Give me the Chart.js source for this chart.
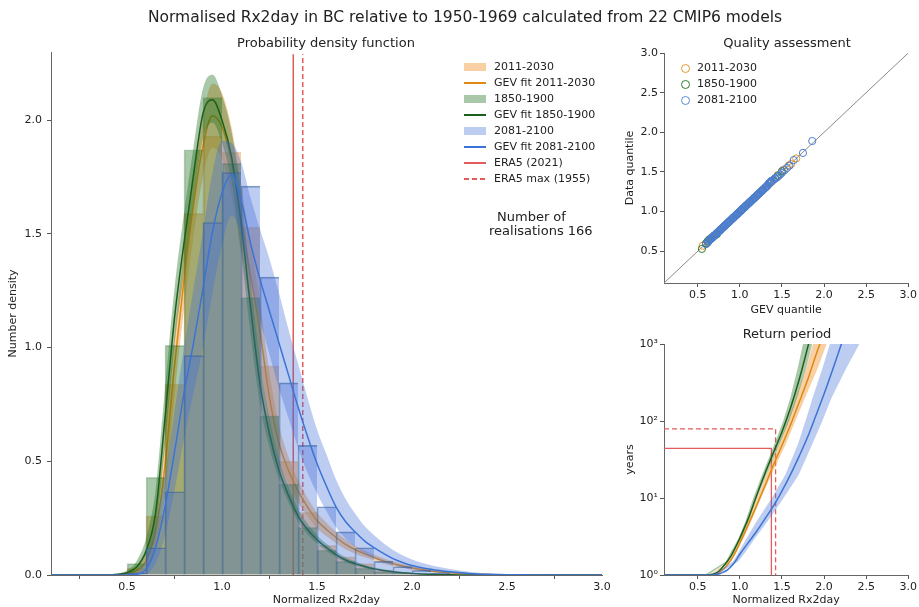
<!DOCTYPE html>
<html>
<head>
<meta charset="utf-8">
<script src="https://cdn.jsdelivr.net/npm/chart.js@4.4.1/dist/chart.umd.min.js"></script>
<style>
  body { margin: 0; background: #fff; font-family: 'DejaVu Sans', sans-serif; color: #222; }
  #page { position: relative; width: 919px; height: 607px; overflow: hidden; }
  canvas { position: absolute; }
  .txt { position: absolute; white-space: nowrap; line-height: 1; }
  .ctr { transform: translate(-50%, -50%); }
  .leg { position: absolute; font-size: 11px; line-height: 16px; }
  .leg > div { position: relative; height: 16px; white-space: nowrap; }
  .sw { position: absolute; left: 0; top: 4px; width: 22px; height: 8px; }
  .ln { position: absolute; left: 0; top: 7px; width: 22px; height: 1.6px; }
  .dot { position: absolute; left: 0; top: 3.5px; width: 7px; height: 7px; border-radius: 50%; border: 1.2px solid; }
</style>
</head>
<body>
<div id="page">
  <canvas id="pdf" width="620" height="607" style="left:0;top:0"></canvas>
  <canvas id="qq" width="299" height="317" style="left:620px;top:0"></canvas>
  <canvas id="rp" width="299" height="277" style="left:620px;top:330px"></canvas>

  <div class="txt ctr" style="left:465px;top:18px;font-size:15.5px">Normalised Rx2day in BC relative to 1950-1969 calculated from 22 CMIP6 models</div>
  <div class="txt ctr" style="left:326px;top:42px;font-size:13px">Probability density function</div>
  <div class="txt ctr" style="left:787px;top:42px;font-size:13px">Quality assessment</div>
  <div class="txt ctr" style="left:787px;top:333px;font-size:13px">Return period</div>

  <div class="leg" style="left:464px;top:59px">
    <div style="padding-left:30px"><span class="sw" style="background:rgba(240,150,50,0.45)"></span>2011-2030</div>
    <div style="padding-left:30px"><span class="ln" style="background:#de8a12"></span>GEV fit 2011-2030</div>
    <div style="padding-left:30px"><span class="sw" style="background:rgba(30,110,30,0.38)"></span>1850-1900</div>
    <div style="padding-left:30px"><span class="ln" style="background:#1d5e1d"></span>GEV fit 1850-1900</div>
    <div style="padding-left:30px"><span class="sw" style="background:rgba(65,110,215,0.35)"></span>2081-2100</div>
    <div style="padding-left:30px"><span class="ln" style="background:#3b74d4"></span>GEV fit 2081-2100</div>
    <div style="padding-left:30px"><span class="ln" style="background:#e35b5b"></span>ERA5 (2021)</div>
    <div style="padding-left:30px"><span class="ln" style="background:repeating-linear-gradient(90deg,#e35b5b 0 5px,transparent 5px 8px)"></span>ERA5 max (1955)</div>
  </div>
  <div class="txt" style="left:497px;top:210px;font-size:13px">Number of</div>
  <div class="txt" style="left:489px;top:224px;font-size:13px">realisations 166</div>

  <div class="leg" style="left:681px;top:60px">
    <div style="padding-left:16px"><span class="dot" style="border-color:#e8952c"></span>2011-2030</div>
    <div style="padding-left:16px"><span class="dot" style="border-color:#2f7a2f"></span>1850-1900</div>
    <div style="padding-left:16px"><span class="dot" style="border-color:#5b8ad8"></span>2081-2100</div>
  </div>
</div>
<script>
// histogram bins (centres, width 0.1) and densities
const binMid = [0.55, 0.65, 0.75, 0.85, 0.95, 1.05, 1.15, 1.25, 1.35, 1.45, 1.55, 1.65, 1.75, 1.85, 1.95, 2.05, 2.15];
const hist2011 = [0.03, 0.26, 0.84, 1.59, 1.93, 1.86, 1.53, 0.92, 0.50, 0.276, 0.13, 0.08, 0.05, 0.02, 0.01, 0, 0];
const hist1850 = [0.05, 0.43, 1.01, 1.87, 2.10, 1.81, 1.22, 0.70, 0.40, 0.21, 0.11, 0.06, 0.03, 0.015, 0.01, 0, 0];
const hist2081 = [0.01, 0.12, 0.366, 0.965, 1.55, 1.77, 1.71, 1.31, 0.845, 0.57, 0.30, 0.19, 0.12, 0.06, 0.037, 0.02, 0.01];

// GEV fit density curves with their uncertainty band
const pdfX = [0.1, 0.4, 0.45, 0.5, 0.55, 0.6, 0.65, 0.7, 0.75, 0.8, 0.85, 0.9, 0.95, 1.0, 1.05, 1.1, 1.15, 1.2, 1.25, 1.3,
  1.35, 1.4, 1.45, 1.5, 1.55, 1.6, 1.65, 1.7, 1.75, 1.8, 1.85, 1.9, 1.95, 2.0, 2.1, 2.2, 2.3, 2.4, 2.5, 3.0];
const gev2011 = [0, 0, 0.001, 0.005, 0.018, 0.06, 0.19, 0.48, 0.92, 1.30, 1.63, 1.89, 2.02, 1.97, 1.82, 1.57, 1.32, 1.07, 0.78, 0.58,
  0.46, 0.37, 0.30, 0.24, 0.20, 0.165, 0.135, 0.112, 0.093, 0.077, 0.062, 0.05, 0.04, 0.031, 0.018, 0.01, 0.005, 0.002, 0.001, 0];
const gev2011Hi = [0, 0, 0.003, 0.012, 0.035, 0.10, 0.28, 0.62, 1.06, 1.43, 1.76, 2.02, 2.16, 2.12, 1.97, 1.72, 1.46, 1.20, 0.89, 0.66,
  0.52, 0.42, 0.34, 0.275, 0.23, 0.19, 0.157, 0.13, 0.108, 0.09, 0.074, 0.06, 0.048, 0.038, 0.023, 0.013, 0.007, 0.003, 0.0015, 0];
const gev2011Lo = [0, 0, 0, 0.002, 0.008, 0.03, 0.11, 0.35, 0.79, 1.17, 1.49, 1.75, 1.88, 1.83, 1.67, 1.42, 1.18, 0.94, 0.67, 0.50,
  0.40, 0.32, 0.26, 0.205, 0.17, 0.14, 0.113, 0.094, 0.078, 0.064, 0.05, 0.04, 0.032, 0.024, 0.013, 0.007, 0.003, 0.001, 0, 0];
const gev1850 = [0, 0, 0.003, 0.01, 0.035, 0.105, 0.27, 0.69, 1.13, 1.46, 1.76, 2.03, 2.09, 2.00, 1.84, 1.55, 1.18, 0.84, 0.62, 0.46,
  0.35, 0.26, 0.20, 0.155, 0.12, 0.09, 0.066, 0.05, 0.037, 0.027, 0.02, 0.014, 0.01, 0.007, 0.003, 0.001, 0, 0, 0, 0];
const gev1850Hi = [0, 0, 0.006, 0.02, 0.06, 0.16, 0.37, 0.82, 1.26, 1.59, 1.88, 2.14, 2.20, 2.11, 1.95, 1.68, 1.30, 0.94, 0.69, 0.51,
  0.39, 0.29, 0.225, 0.175, 0.137, 0.104, 0.078, 0.06, 0.045, 0.033, 0.025, 0.018, 0.013, 0.009, 0.004, 0.0015, 0.0005, 0, 0, 0];
const gev1850Lo = [0, 0, 0.001, 0.004, 0.018, 0.065, 0.19, 0.57, 1.01, 1.33, 1.65, 1.92, 1.99, 1.90, 1.73, 1.42, 1.06, 0.75, 0.56, 0.42,
  0.32, 0.235, 0.18, 0.138, 0.105, 0.078, 0.056, 0.042, 0.031, 0.022, 0.016, 0.011, 0.008, 0.005, 0.002, 0.0005, 0, 0, 0, 0];
const gev2081 = [0, 0, 0, 0, 0.003, 0.025, 0.12, 0.30, 0.54, 0.80, 1.02, 1.26, 1.51, 1.68, 1.76, 1.65, 1.46, 1.30, 1.16, 1.02,
  0.88, 0.74, 0.61, 0.49, 0.39, 0.30, 0.235, 0.19, 0.15, 0.12, 0.095, 0.072, 0.055, 0.042, 0.025, 0.014, 0.007, 0.003, 0.001, 0];
const gev2081Hi = [0, 0, 0, 0.003, 0.015, 0.07, 0.22, 0.44, 0.72, 1.00, 1.26, 1.51, 1.77, 1.91, 1.90, 1.82, 1.66, 1.52, 1.39, 1.24,
  1.08, 0.93, 0.78, 0.64, 0.53, 0.42, 0.335, 0.27, 0.215, 0.175, 0.14, 0.11, 0.087, 0.068, 0.043, 0.026, 0.014, 0.007, 0.003, 0];
const gev2081Lo = [0, 0, 0, 0, 0, 0.005, 0.05, 0.17, 0.37, 0.60, 0.80, 1.00, 1.24, 1.45, 1.58, 1.50, 1.29, 1.12, 0.97, 0.82,
  0.69, 0.56, 0.45, 0.36, 0.28, 0.21, 0.16, 0.125, 0.095, 0.073, 0.056, 0.043, 0.032, 0.024, 0.013, 0.007, 0.003, 0.001, 0, 0];

const era5 = 1.375;      // 2021 event
const era5Max = 1.425;   // 1955 max
const era5Return = 44;
const era5MaxReturn = 79;

// QQ plot: GEV quantile vs data quantile
const qqGev2011 = [0.56, 0.60, 0.62, 0.64, 0.66, 0.68, 0.70, 0.73, 0.76, 0.80, 0.85, 0.90, 0.95, 1.00, 1.05, 1.10, 1.15, 1.20, 1.25,
  1.30, 1.35, 1.40, 1.45, 1.52, 1.58, 1.61, 1.67];
const qqDat2011 = [0.57, 0.60, 0.62, 0.65, 0.67, 0.68, 0.70, 0.73, 0.76, 0.80, 0.85, 0.90, 0.95, 1.00, 1.05, 1.10, 1.15, 1.20, 1.25,
  1.30, 1.35, 1.40, 1.46, 1.53, 1.58, 1.60, 1.67];
const qqGev1850 = [0.55, 0.60, 0.62, 0.64, 0.66, 0.67, 0.69, 0.70, 0.72, 0.73, 0.77, 0.82, 0.87, 0.92, 0.97, 1.02, 1.07, 1.12, 1.17,
  1.22, 1.27, 1.32, 1.37, 1.42, 1.45, 1.50];
const qqDat1850 = [0.53, 0.60, 0.63, 0.65, 0.66, 0.67, 0.69, 0.70, 0.71, 0.72, 0.77, 0.82, 0.87, 0.92, 0.97, 1.02, 1.07, 1.12, 1.17,
  1.22, 1.27, 1.32, 1.37, 1.42, 1.45, 1.51];
const qqGev2081 = [0.60, 0.62, 0.63, 0.64, 0.65, 0.66, 0.67, 0.68, 0.69, 0.70, 0.71, 0.72, 0.73, 0.74, 0.75, 0.76, 0.77, 0.78, 0.79,
  0.80, 0.81, 0.82, 0.83, 0.84, 0.85, 0.86, 0.87, 0.88, 0.89, 0.90, 0.91, 0.92, 0.93, 0.94, 0.95, 0.96, 0.97, 0.98, 0.99, 1.00,
  1.01, 1.02, 1.03, 1.04, 1.05, 1.06, 1.07, 1.08, 1.09, 1.10, 1.11, 1.12, 1.13, 1.14, 1.15, 1.16, 1.17, 1.18, 1.19, 1.20, 1.21,
  1.22, 1.23, 1.24, 1.25, 1.26, 1.27, 1.28, 1.29, 1.30, 1.31, 1.32, 1.33, 1.34, 1.35, 1.36, 1.37, 1.38, 1.40, 1.42, 1.44, 1.46,
  1.48, 1.50, 1.53, 1.56, 1.59, 1.64, 1.75, 1.86];
const qqDat2081 = [0.59, 0.61, 0.63, 0.64, 0.65, 0.66, 0.67, 0.68, 0.69, 0.70, 0.71, 0.72, 0.73, 0.74, 0.75, 0.76, 0.77, 0.78, 0.79,
  0.80, 0.81, 0.82, 0.83, 0.84, 0.85, 0.86, 0.87, 0.88, 0.89, 0.90, 0.91, 0.92, 0.93, 0.94, 0.95, 0.96, 0.97, 0.98, 0.99, 1.00,
  1.01, 1.02, 1.03, 1.04, 1.05, 1.06, 1.07, 1.08, 1.09, 1.10, 1.11, 1.12, 1.13, 1.14, 1.15, 1.16, 1.17, 1.18, 1.19, 1.20, 1.21,
  1.22, 1.23, 1.24, 1.25, 1.26, 1.27, 1.28, 1.29, 1.30, 1.31, 1.32, 1.33, 1.35, 1.36, 1.37, 1.38, 1.39, 1.40, 1.42, 1.43, 1.45,
  1.47, 1.49, 1.52, 1.55, 1.58, 1.65, 1.74, 1.89];

// return period curves (years)
const rpX2011 = [0.1, 0.6, 0.65, 0.7, 0.75, 0.8, 0.85, 0.9, 0.95, 1.0, 1.05, 1.1, 1.15, 1.2, 1.25, 1.3, 1.4, 1.5, 1.6, 1.7, 1.8, 1.9, 2.0];
const rpT2011 = [1, 1, 1, 1.02, 1.07, 1.18, 1.35, 1.6, 2.0, 2.6, 3.4, 4.5, 6.0, 8.0, 10.8, 14.5, 27, 48, 88, 170, 330, 700, 1400];
const rpX1850 = [0.1, 0.55, 0.6, 0.65, 0.7, 0.75, 0.8, 0.85, 0.9, 0.95, 1.0, 1.05, 1.1, 1.15, 1.2, 1.3, 1.4, 1.5, 1.6, 1.7, 1.8, 1.9];
const rpT1850 = [1, 1, 1, 1.01, 1.04, 1.12, 1.28, 1.5, 1.8, 2.3, 3.0, 4.0, 5.4, 7.6, 10.8, 21, 39, 72, 145, 330, 850, 2300];
const rpX2081 = [0.1, 0.65, 0.7, 0.75, 0.8, 0.85, 0.9, 0.95, 1.0, 1.1, 1.2, 1.3, 1.4, 1.5, 1.6, 1.7, 1.8, 1.9, 2.0, 2.1, 2.2, 2.3];
const rpT2081 = [1, 1, 1.01, 1.03, 1.08, 1.16, 1.3, 1.52, 1.86, 2.63, 3.7, 5.4, 7.9, 12.3, 20, 34, 60, 115, 224, 457, 955, 2000];
// band edges (x) at fixed return periods
const rpBandT = [1, 1.5, 2, 3, 5, 10, 20, 50, 100, 200, 500, 1000, 1500];
const band2011L = [0.64, 0.865, 0.935, 1.005, 1.095, 1.203, 1.315, 1.465, 1.57, 1.665, 1.79, 1.87, 1.915];
const band2011R = [0.66, 0.895, 0.965, 1.045, 1.135, 1.253, 1.375, 1.545, 1.66, 1.775, 1.93, 2.03, 2.095];
const band1850L = [0.58, 0.835, 0.895, 0.985, 1.067, 1.16, 1.265, 1.41, 1.515, 1.60, 1.69, 1.75, 1.79];
const band1850R = [0.62, 0.865, 0.925, 1.015, 1.103, 1.20, 1.315, 1.47, 1.585, 1.68, 1.79, 1.86, 1.91];
const band2081L = [0.68, 0.92, 0.99, 1.08, 1.2, 1.38, 1.54, 1.69, 1.78, 1.865, 1.985, 2.07, 2.12];
const band2081R = [0.72, 0.98, 1.07, 1.18, 1.33, 1.52, 1.70, 1.86, 1.98, 2.09, 2.27, 2.42, 2.52];

const xTicks = [0.5, 1.0, 1.5, 2.0, 2.5, 3.0];
const pdfYTicks = [0, 0.5, 1.0, 1.5, 2.0];
const qqYTicks = [0.5, 1.0, 1.5, 2.0, 2.5, 3.0];
const rpYTicks = [1, 10, 100, 1000];
const rpYLabels = ['10\u2070', '10\u00b9', '10\u00b2', '10\u00b3'];

const C = {
  oFill: 'rgba(240,150,50,0.45)', oLine: '#de8a12', oEdge: 'rgba(200,110,20,0.25)', oDot: '#e8952c',
  gFill: 'rgba(30,110,30,0.38)', gLine: '#1d5e1d', gEdge: 'rgba(20,80,20,0.25)', gDot: '#2f7a2f',
  bFill: 'rgba(65,110,215,0.35)', bLine: '#3b74d4', bEdge: 'rgba(50,95,150,0.6)', bDot: '#4a7dd0',
  red: '#e35b5b',
};

Chart.defaults.font.family = "'DejaVu Sans', sans-serif";
Chart.defaults.font.size = 11;
Chart.defaults.color = '#222';

const xy = (xs, ys) => xs.map((x, i) => ({ x, y: ys[i] }));
const polygon = (left, right, ts) => [...xy(left, ts), ...xy(right, ts).reverse()];

function axis({ type = 'linear', min, max, ticks, label, fmt, size, horiz, pad, titlePad }) {
  return {
    type, min, max, offset: false,
    afterBuildTicks: (s) => { s.ticks = ticks.map((v) => ({ value: v })); },
    afterFit: (s) => { if (horiz) s.height = size; else s.width = size; },
    grid: { display: true, drawOnChartArea: false, drawTicks: true, tickLength: 4, color: '#555' },
    border: { display: true, color: '#666', width: 1 },
    ticks: { padding: pad, color: '#222', font: { size: 11 }, autoSkip: false, maxRotation: 0, callback: fmt },
    title: { display: true, text: label, color: '#222', font: { size: 11 }, padding: titlePad },
  };
}
const fmt1 = (v) => Number(v).toFixed(1);

const base = {
  responsive: false, animation: false,
  plugins: { legend: { display: false }, tooltip: { enabled: false } },
  elements: { point: { radius: 0 } },
};

function curve(xs, ys, color, order) {
  return { type: 'line', data: xy(xs, ys), borderColor: color, borderWidth: 1.5, pointRadius: 0, fill: false, cubicInterpolationMode: 'monotone', order };
}
function band(hi, lo, color, order) {
  return [
    { type: 'line', data: xy(pdfX, hi), borderWidth: 0, pointRadius: 0, fill: false, cubicInterpolationMode: 'monotone', order },
    { type: 'line', data: xy(pdfX, lo), borderWidth: 0, pointRadius: 0, fill: '-1', backgroundColor: color, cubicInterpolationMode: 'monotone', order },
  ];
}
function hist(ys, fill, edge, order) {
  return {
    type: 'bar', data: xy(binMid, ys), backgroundColor: fill, borderColor: edge,
    borderWidth: { left: 1, right: 0, top: 1, bottom: 0 }, borderSkipped: false,
    barPercentage: 1, categoryPercentage: 1, grouped: false, order,
  };
}

new Chart(document.getElementById('pdf'), {
  type: 'line',
  data: {
    datasets: [
      { type: 'line', data: [{ x: era5, y: 0 }, { x: era5, y: 2.29 }], borderColor: C.red, borderWidth: 1.5, pointRadius: 0, order: 30 },
      { type: 'line', data: [{ x: era5Max, y: 0 }, { x: era5Max, y: 2.29 }], borderColor: C.red, borderWidth: 1.5, borderDash: [5, 3], pointRadius: 0, order: 30 },
      ...band(gev2011Hi, gev2011Lo, C.oFill, 29),
      hist(hist2011, C.oFill, C.oEdge, 28),
      curve(pdfX, gev2011, C.oLine, 27),
      ...band(gev1850Hi, gev1850Lo, C.gFill, 26),
      hist(hist1850, C.gFill, C.gEdge, 25),
      curve(pdfX, gev1850, C.gLine, 24),
      ...band(gev2081Hi, gev2081Lo, C.bFill, 23),
      hist(hist2081, C.bFill, C.bEdge, 22),
      curve(pdfX, gev2081, C.bLine, 21),
    ],
  },
  options: {
    ...base,
    layout: { padding: { top: 52, right: 18, left: 0, bottom: 0 } },
    scales: {
      x: axis({ min: 0.1, max: 3.0, ticks: xTicks, label: 'Normalized Rx2day', fmt: fmt1, size: 32, horiz: true, pad: 2, titlePad: { top: 0, bottom: 0 } }),
      y: axis({ min: 0, max: 2.3, ticks: pdfYTicks, label: 'Number density', fmt: fmt1, size: 51, pad: 5, titlePad: { top: 7, bottom: 0 } }),
    },
  },
});

function dots(xs, ys, color, order) {
  return { type: 'scatter', data: xy(xs, ys), borderColor: color, backgroundColor: 'rgba(0,0,0,0)', borderWidth: 1, pointRadius: 3.6, pointStyle: 'circle', showLine: false, order };
}

new Chart(document.getElementById('qq'), {
  type: 'scatter',
  data: {
    datasets: [
      { type: 'line', data: [{ x: 0.1, y: 0.1 }, { x: 3.0, y: 3.0 }], borderColor: '#8a8a8a', borderWidth: 1, pointRadius: 0, order: 10 },
      dots(qqGev2011, qqDat2011, C.oDot, 9),
      dots(qqGev1850, qqDat1850, C.gDot, 8),
      dots(qqGev2081, qqDat2081, C.bDot, 7),
    ],
  },
  options: {
    ...base,
    layout: { padding: { top: 53, right: 9, left: 0, bottom: 0 } },
    scales: {
      x: axis({ min: 0.1, max: 3.0, ticks: xTicks, label: 'GEV quantile', fmt: fmt1, size: 34, horiz: true, pad: 2, titlePad: { top: 0, bottom: 0 } }),
      y: axis({ min: 0.1, max: 3.0, ticks: qqYTicks, label: 'Data quantile', fmt: fmt1, size: 44, pad: 2, titlePad: { top: 3.5, bottom: 0 } }),
    },
  },
});

function shape(left, right, color, order) {
  return { type: 'line', data: polygon(left, right, rpBandT), borderWidth: 0, pointRadius: 0, fill: 'shape', backgroundColor: color, order };
}

new Chart(document.getElementById('rp'), {
  type: 'line',
  data: {
    datasets: [
      { type: 'line', data: [{ x: 0.1, y: era5Return }, { x: era5, y: era5Return }, { x: era5, y: 1 }], borderColor: C.red, borderWidth: 1.3, pointRadius: 0, order: 30 },
      { type: 'line', data: [{ x: 0.1, y: era5MaxReturn }, { x: era5Max, y: era5MaxReturn }, { x: era5Max, y: 1 }], borderColor: C.red, borderWidth: 1.3, borderDash: [5, 3], pointRadius: 0, order: 30 },
      shape(band2011L, band2011R, C.oFill, 29),
      curve(rpX2011, rpT2011, C.oLine, 28),
      shape(band1850L, band1850R, C.gFill, 27),
      curve(rpX1850, rpT1850, C.gLine, 26),
      shape(band2081L, band2081R, C.bFill, 25),
      curve(rpX2081, rpT2081, C.bLine, 24),
    ],
  },
  options: {
    ...base,
    layout: { padding: { top: 14, right: 9, left: 0, bottom: 0 } },
    scales: {
      x: axis({ min: 0.1, max: 3.0, ticks: xTicks, label: 'Normalized Rx2day', fmt: fmt1, size: 32, horiz: true, pad: 2, titlePad: { top: 0, bottom: 0 } }),
      y: axis({ type: 'logarithmic', min: 1, max: 1000, ticks: rpYTicks, label: 'years', fmt: (v, i) => rpYLabels[i], size: 44, pad: 2, titlePad: { top: 3.5, bottom: 0 } }),
    },
  },
});
</script>
</body>
</html>
